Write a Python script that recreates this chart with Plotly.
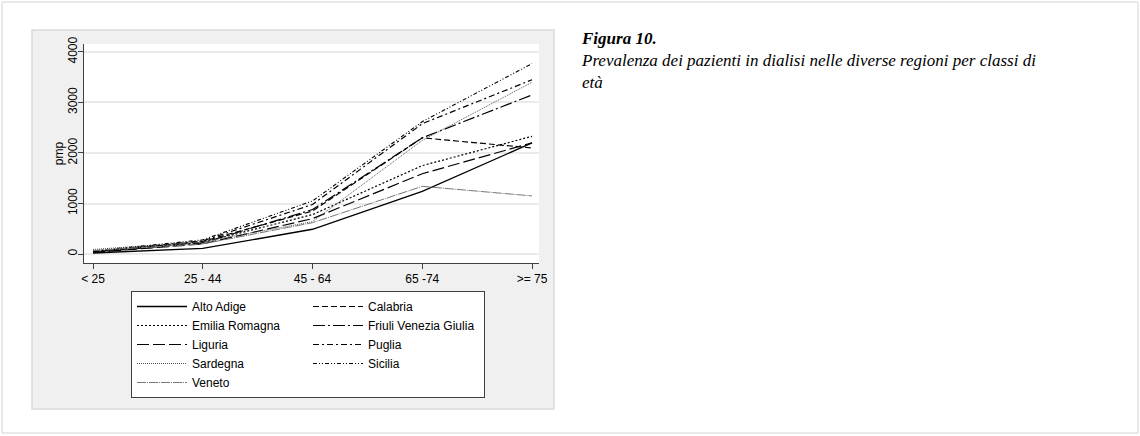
import plotly.graph_objects as go

# Age classes (x axis) and prevalence per million population (pmp) by region
age_classes = ["< 25", "25 - 44", "45 - 64", "65 -74", ">= 75"]

alto_adige = [20, 110, 490, 1240, 2200]
calabria = [40, 250, 850, 2300, 2100]
emilia_romagna = [50, 230, 780, 1750, 2330]
friuli_venezia_giulia = [30, 220, 880, 2300, 3150]
liguria = [30, 200, 700, 1590, 2200]
puglia = [50, 260, 980, 2580, 3450]
sardegna = [90, 240, 640, 2250, 3400]
sicilia = [60, 280, 1050, 2620, 3770]
veneto = [70, 200, 620, 1340, 1150]

y_ticks = [0, 1000, 2000, 3000, 4000]

series = [
    ("Alto Adige", alto_adige, "solid", "#000000", 1.3),
    ("Calabria", calabria, "6px,3px", "#000000", 1.2),
    ("Emilia Romagna", emilia_romagna, "2px,2px", "#000000", 1.2),
    ("Friuli Venezia Giulia", friuli_venezia_giulia, "12px,3px,2px,3px", "#000000", 1.2),
    ("Liguria", liguria, "12px,4px", "#000000", 1.2),
    ("Puglia", puglia, "6px,3px,2px,3px", "#000000", 1.2),
    ("Sardegna", sardegna, "1px,1px", "#555555", 1.0),
    ("Sicilia", sicilia, "4px,2px,1px,2px,1px,2px", "#000000", 1.1),
    ("Veneto", veneto, "9px,1px,1px,1px", "#777777", 1.0),
]

fig = go.Figure()
for name, values, dash, color, width in series:
    fig.add_trace(go.Scatter(
        x=list(range(len(age_classes))), y=values, name=name, mode="lines",
        line=dict(color=color, width=width, dash=dash),
    ))

W, H = 1140, 436
L, R, T, B = 84, 539, 44, 263   # plot area in pixels
pw, ph = R - L, B - T


def px(x):
    return (x - L) / pw


def py(y):
    return (B - y) / ph


shapes = [
    # page frame
    dict(type="rect", xref="paper", yref="paper", layer="below",
         x0=px(2), x1=px(1138), y0=py(433), y1=py(2),
         line=dict(color="#d4d4d4", width=1), fillcolor="#ffffff"),
    # graph region
    dict(type="rect", xref="paper", yref="paper", layer="below",
         x0=px(32), x1=px(554), y0=py(409), y1=py(30),
         line=dict(color="#dadada", width=1.5), fillcolor="#f0f0f0"),
    # plot region
    dict(type="rect", xref="paper", yref="paper", layer="below",
         x0=0, x1=1, y0=0, y1=1,
         line=dict(width=0), fillcolor="#ffffff"),
]

font_sans = "Liberation Sans, Arial, sans-serif"

fig.update_layout(
    width=W, height=H,
    margin=dict(l=L, r=W - R, t=T, b=H - B, pad=0),
    paper_bgcolor="#ffffff",
    plot_bgcolor="rgba(0,0,0,0)",
    font=dict(family=font_sans, size=12, color="#000000"),
    shapes=shapes,
    showlegend=True,
    legend=dict(
        orientation="h", x=px(131), y=py(291), xanchor="left", yanchor="top",
        bgcolor="#ffffff", bordercolor="#404040", borderwidth=1,
        itemwidth=50,
        entrywidth=111, entrywidthmode="pixels",
        font=dict(family=font_sans, size=12, color="#000000"),
        traceorder="normal",
    ),
    xaxis=dict(
        range=[(L - 93) / 109.75, (R - 93) / 109.75],
        tickmode="array", tickvals=list(range(len(age_classes))), ticktext=age_classes,
        showgrid=False, zeroline=False,
        showline=True, linecolor="#404040", linewidth=1,
        ticks="outside", ticklen=5, tickcolor="#404040",
        tickfont=dict(family=font_sans, size=12, color="#000000"),
    ),
    yaxis=dict(
        range=[-178, 4158],
        tickmode="array", tickvals=y_ticks, ticktext=[str(v) for v in y_ticks],
        tickangle=-90, ticklabelstandoff=-4,
        showgrid=True, gridcolor="#eaeaea", gridwidth=1.5, zeroline=False,
        showline=True, linecolor="#404040", linewidth=1,
        ticks="outside", ticklen=5, tickcolor="#404040",
        tickfont=dict(family=font_sans, size=12, color="#000000"),
        title=dict(text="pmp", font=dict(family=font_sans, size=12), standoff=0),
    ),
    annotations=[
        dict(
            xref="paper", yref="paper", x=px(579), y=py(27),
            xanchor="left", yanchor="top", align="left", showarrow=False,
            text="<b>Figura 10.</b><br>Prevalenza dei pazienti in dialisi nelle diverse regioni per classi di<br>età",
            font=dict(family="Liberation Serif, Times New Roman, serif", size=17, color="#000000",
                      style="italic"),
        )
    ],
)

fig.write_html("out.html")
